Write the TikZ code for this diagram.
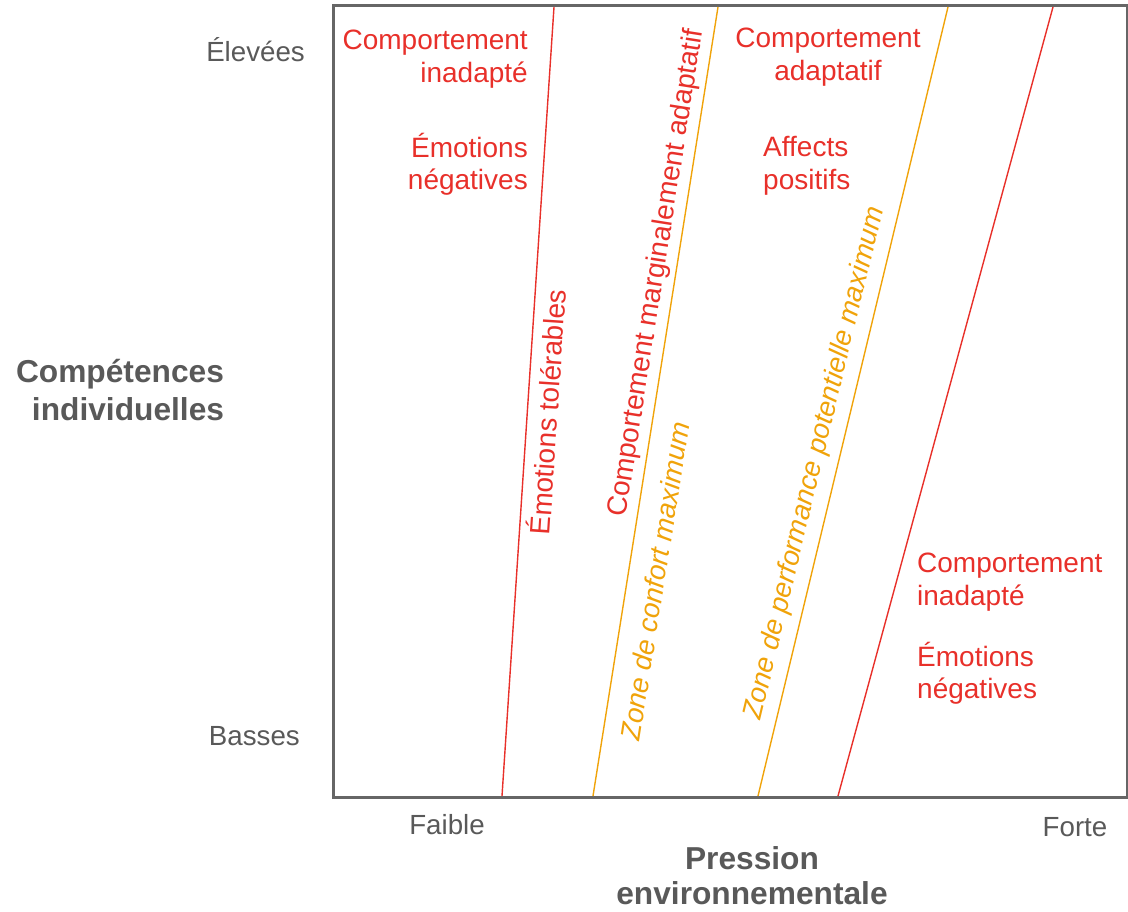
\documentclass[tikz,border=0pt]{standalone}
\usepackage{fontspec}
\setmainfont{Liberation Sans}
\definecolor{rd}{HTML}{E8302A}
\definecolor{og}{HTML}{F0A30A}
\definecolor{gr}{HTML}{595959}
\definecolor{frm}{HTML}{666666}
\begin{document}
\begin{tikzpicture}[x=1pt,y=-1pt,
  redtxt/.style={text=rd, font=\fontsize{28}{33}\selectfont, inner sep=0pt},
  grytxt/.style={text=gr, font=\fontsize{27.7}{33}\selectfont, inner sep=0pt},
  boldtxt/.style={text=gr, font=\fontsize{31.7}{38}\selectfont\bfseries, inner sep=0pt},
  orgtxt/.style={text=og, font=\fontsize{27.7}{33}\selectfont\itshape, inner sep=0pt},
  redline/.style={draw=rd, line width=1.4pt},
  orgline/.style={draw=og, line width=1.4pt}]
\useasboundingbox (0,0) rectangle (1128,912);
% frame
\draw[frm, line width=3pt] (333,6) rectangle (1127,797);
% line end points
\coordinate (r1t) at (554,7);  \coordinate (r1b) at (502,796);
\coordinate (o1t) at (718,7);  \coordinate (o1b) at (593,796);
\coordinate (o2t) at (948,7);  \coordinate (o2b) at (758,796);
\coordinate (r2t) at (1053,7); \coordinate (r2b) at (838,796);
\draw[redline] (r1t) -- (r1b);
\draw[orgline] (o1t) -- (o1b);
\draw[orgline] (o2t) -- (o2b);
\draw[redline] (r2t) -- (r2b);
% axis labels
\node[grytxt, anchor=base east] (elev) at (305,62) {Élevées};
\node[grytxt, anchor=base east] (bass) at (300,745) {Basses};
\node[grytxt, anchor=base] (faib) at (447,834) {Faible};
\node[grytxt, anchor=base] (fort) at (1075,836) {Forte};
\node[boldtxt, anchor=base] (comp1) at (120,382) {Compétences};
\node[boldtxt, anchor=base] (comp2) at (128,420) {individuelles};
\node[boldtxt, anchor=base] (pres1) at (752,869) {Pression};
\node[boldtxt, anchor=base] (pres2) at (752,904) {environnementale};
% top-left block
\node[redtxt, anchor=base east] (tl1) at (528,50) {Comportement};
\node[redtxt, anchor=base east] (tl2) at (528,83) {inadapté};
\node[redtxt, anchor=base east] (tl3) at (528,158) {Émotions};
\node[redtxt, anchor=base east] (tl4) at (528,190) {négatives};
% top-middle block
\node[redtxt, anchor=base] (tm1) at (828,48) {Comportement};
\node[redtxt, anchor=base] (tm2) at (828,81) {adaptatif};
\node[redtxt, anchor=base west] (tm3) at (763,157) {Affects};
\node[redtxt, anchor=base west] (tm4) at (763,190) {positifs};
% bottom-right block
\node[redtxt, anchor=base west] (br1) at (917,572) {Comportement};
\node[redtxt, anchor=base west] (br2) at (917,605) {inadapté};
\node[redtxt, anchor=base west] (br3) at (917,666) {Émotions};
\node[redtxt, anchor=base west] (br4) at (917,698) {négatives};
% rotated texts
\node[redtxt, rotate=86.2] (emtol) at (546,412) {Émotions tolérables};
\node[redtxt, rotate=81] (cma) at (657,273) {Comportement marginalement adaptatif};
\node[orgtxt, rotate=81] (zcm) at (655,581) {Zone de confort maximum};
\node[orgtxt, rotate=76.5] (zpp) at (815,463) {Zone de performance potentielle maximum};
\end{tikzpicture}
\end{document}
